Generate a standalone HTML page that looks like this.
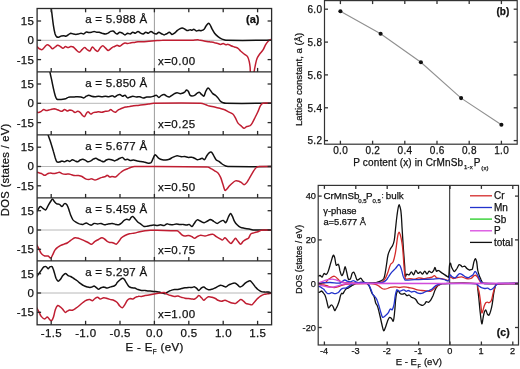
<!DOCTYPE html><html><head><meta charset="utf-8"><style>
html,body{margin:0;padding:0;background:#fff;}svg{display:block;will-change:transform;filter:blur(0.3px);}
text{font-family:"Liberation Sans", sans-serif;fill:#111;stroke:#111;stroke-width:0.25px;}
</style></head><body>
<svg width="520" height="369" viewBox="0 0 520 369">
<rect width="520" height="369" fill="#fff"/>
<defs>
<clipPath id="pa0"><rect x="37.1" y="8.5" width="234.50000000000003" height="63.400000000000006"/></clipPath>
<clipPath id="pa1"><rect x="37.1" y="71.9" width="234.50000000000003" height="63.0"/></clipPath>
<clipPath id="pa2"><rect x="37.1" y="134.9" width="234.50000000000003" height="63.0"/></clipPath>
<clipPath id="pa3"><rect x="37.1" y="197.9" width="234.50000000000003" height="62.99999999999997"/></clipPath>
<clipPath id="pa4"><rect x="37.1" y="260.9" width="234.50000000000003" height="63.900000000000034"/></clipPath>
<clipPath id="pc"><rect x="318.2" y="185.4" width="200.3" height="159.6"/></clipPath>
</defs>
<line x1="37.1" y1="40.3" x2="271.6" y2="40.3" stroke="#b0b0b0" stroke-width="0.9"/>
<line x1="37.1" y1="103.3" x2="271.6" y2="103.3" stroke="#b0b0b0" stroke-width="0.9"/>
<line x1="37.1" y1="166.5" x2="271.6" y2="166.5" stroke="#b0b0b0" stroke-width="0.9"/>
<line x1="37.1" y1="230.0" x2="271.6" y2="230.0" stroke="#b0b0b0" stroke-width="0.9"/>
<line x1="37.1" y1="293.0" x2="271.6" y2="293.0" stroke="#b0b0b0" stroke-width="0.9"/>
<line x1="154.4" y1="8.5" x2="154.4" y2="324.8" stroke="#909090" stroke-width="0.9"/>
<g clip-path="url(#pa0)">
<path d="M50.6,4.0C50.8,5.5 51.1,7.0 51.3,8.5C52.0,14.1 52.6,19.8 53.4,25.4C53.8,28.3 54.3,31.2 55.1,34.0C55.4,34.9 55.8,36.0 56.5,36.6C57.0,37.1 57.9,37.3 58.6,37.2C59.5,37.1 60.3,36.3 61.2,36.1C62.0,35.9 62.9,35.8 63.8,35.8C64.7,35.8 65.6,36.3 66.4,36.1C67.0,36.0 67.5,35.3 68.1,34.9C69.0,34.3 69.8,33.4 70.7,33.2C71.5,33.1 72.4,33.8 73.3,34.0C74.2,34.2 75.0,34.4 75.9,34.4C76.8,34.4 77.6,34.2 78.5,34.0C79.4,33.8 80.2,33.2 81.1,33.2C82.0,33.2 82.9,34.2 83.7,34.0C84.6,33.8 85.3,32.3 86.3,32.0C87.1,31.8 88.0,32.5 88.9,32.6C89.8,32.6 90.7,32.5 91.5,32.3C92.4,32.1 93.2,31.4 94.1,31.4C95.0,31.4 95.8,32.1 96.7,32.3C97.5,32.4 98.5,32.2 99.3,32.3C100.2,32.5 101.0,33.0 101.9,33.2C103.1,33.5 104.2,34.0 105.4,34.0C106.3,34.0 107.2,33.6 108.0,33.2C108.9,32.7 109.7,31.8 110.6,31.4C111.4,31.1 112.5,30.7 113.2,31.0C114.3,31.4 115.0,32.8 116.0,33.5C116.3,33.8 116.8,34.1 117.2,34.0C118.1,33.7 118.9,32.4 119.8,32.3C120.6,32.2 121.6,32.8 122.4,33.2C123.3,33.7 124.1,34.9 125.0,34.9C125.9,34.9 126.7,33.4 127.6,33.2C128.4,33.1 129.4,34.1 130.2,34.0C131.1,33.8 131.9,32.4 132.8,32.3C133.6,32.2 134.6,33.3 135.4,33.2C136.3,33.0 137.1,31.4 138.0,31.4C138.9,31.4 139.7,32.7 140.6,33.2C141.4,33.6 142.4,34.1 143.2,34.0C144.1,33.8 144.9,32.4 145.8,32.3C146.6,32.2 147.6,33.3 148.4,33.2C149.3,33.0 150.1,31.4 151.0,31.4C151.9,31.4 152.7,32.7 153.6,33.2C154.4,33.6 155.5,34.1 156.3,34.0C157.2,33.8 158.0,32.4 158.9,32.3C159.7,32.3 160.6,33.3 161.5,33.7C162.4,34.1 163.2,34.9 164.1,34.9C165.0,34.9 165.8,34.1 166.7,33.7C167.6,33.3 168.5,32.2 169.3,32.3C170.2,32.4 171.0,34.2 171.9,34.4C172.7,34.5 173.7,33.8 174.5,33.2C175.5,32.5 176.2,31.4 177.1,30.6C177.9,29.9 178.8,29.3 179.7,28.8C180.5,28.4 181.5,27.9 182.3,28.0C183.2,28.1 184.0,28.8 184.9,29.2C185.8,29.6 186.6,30.5 187.5,30.6C188.3,30.7 189.2,29.8 190.1,29.7C190.7,29.6 191.4,30.3 192.0,30.2C192.6,30.1 193.1,29.1 193.7,29.2C194.6,29.3 195.4,30.7 196.3,30.9C197.1,31.1 198.0,30.3 198.9,30.2C199.8,30.2 200.7,30.8 201.5,30.6C202.4,30.4 203.4,29.9 204.1,29.2C204.9,28.4 205.2,27.1 205.9,26.2C206.7,25.2 207.6,23.5 208.5,23.3C209.0,23.1 209.8,24.3 210.2,25.0C210.9,26.2 211.3,27.6 212.0,28.8C212.8,30.3 213.6,31.9 214.6,33.2C215.6,34.5 216.8,35.6 218.0,36.6C219.1,37.5 220.3,38.3 221.5,38.9C222.3,39.3 223.2,39.6 224.1,39.8C225.0,40.0 226.0,40.3 227.0,40.3C242.0,40.5 257.0,40.3 272.0,40.3" fill="none" stroke="#111" stroke-width="1.5" stroke-linejoin="round"/>
<path d="M36.0,46.5C36.4,46.7 36.8,46.8 37.2,47.0C38.0,47.5 38.7,48.4 39.5,48.8C40.3,49.2 41.4,49.9 42.1,49.6C43.1,49.3 43.8,47.8 44.7,47.0C45.5,46.2 46.4,44.9 47.3,44.8C48.1,44.7 49.1,45.6 49.9,46.2C50.9,46.9 51.6,48.7 52.5,48.8C53.3,48.9 54.2,47.6 55.1,47.0C56.0,46.4 56.8,45.4 57.7,45.3C58.5,45.2 59.5,46.0 60.3,46.5C61.2,47.0 62.0,48.3 62.9,48.3C63.8,48.3 64.6,46.6 65.5,46.5C66.3,46.4 67.2,47.6 68.1,47.6C69.0,47.6 69.8,46.6 70.7,46.5C71.5,46.4 72.6,46.6 73.3,47.0C74.3,47.6 75.0,48.8 75.9,49.6C77.0,50.6 78.3,52.3 79.4,52.3C80.3,52.3 81.1,50.4 82.0,49.6C82.8,48.9 83.7,47.6 84.6,47.6C85.5,47.6 86.3,49.0 87.2,49.6C88.0,50.1 89.1,51.3 89.8,51.0C90.9,50.5 91.4,47.3 92.4,47.0C93.2,46.8 94.1,48.8 95.0,49.6C95.8,50.3 96.9,51.6 97.6,51.4C98.6,51.1 99.2,49.0 100.2,47.9C101.0,47.1 101.9,45.8 102.8,45.8C103.7,45.8 104.6,47.2 105.4,47.9C106.3,48.7 107.1,50.3 108.0,50.5C108.8,50.6 109.8,49.4 110.6,48.8C111.5,48.2 112.3,47.3 113.2,46.8C113.6,46.6 114.2,46.7 114.6,46.5C115.5,46.2 116.3,45.4 117.2,45.3C118.0,45.3 119.0,46.3 119.8,46.2C120.7,46.0 121.5,45.0 122.4,44.4C123.2,43.9 124.1,43.1 125.0,43.0C125.8,42.9 126.7,43.6 127.6,43.6C128.8,43.5 129.9,42.9 131.1,42.7C132.3,42.5 133.4,42.6 134.6,42.4C135.7,42.3 136.9,41.9 138.0,41.8C139.2,41.7 140.3,41.8 141.5,41.8C143.2,41.7 145.0,41.6 146.7,41.5C148.4,41.4 150.2,41.2 151.9,41.0C153.6,40.9 155.4,40.7 157.1,40.6C158.8,40.5 160.6,40.3 162.3,40.3C165.8,40.2 169.2,40.3 172.7,40.3C179.1,40.3 185.6,40.3 192.0,40.2C194.3,40.2 196.6,39.7 198.9,39.9C200.7,40.0 202.4,40.7 204.1,41.0C205.9,41.3 207.6,41.5 209.4,41.8C211.1,42.1 212.9,42.3 214.6,42.7C215.7,42.9 216.9,43.3 218.0,43.6C218.9,43.8 219.7,44.4 220.6,44.4C221.5,44.4 222.4,43.5 223.2,43.6C224.1,43.7 224.9,44.7 225.8,44.8C226.6,44.9 227.6,44.2 228.4,44.4C229.3,44.6 230.1,45.4 231.0,45.8C232.1,46.3 233.3,46.6 234.5,47.0C235.7,47.4 237.0,47.6 238.0,48.3C239.0,49.0 239.7,50.1 240.6,51.0C241.7,52.0 242.9,53.0 244.1,54.0C245.2,54.9 246.7,55.5 247.5,56.6C248.5,58.1 248.9,60.0 249.3,61.8C249.7,63.5 249.9,65.3 250.1,67.0C250.4,69.7 250.0,73.0 250.9,75.0C251.2,75.7 253.3,75.5 253.8,75.0C254.3,74.5 253.9,73.0 254.1,72.0C254.4,69.8 254.8,67.5 255.3,65.3C255.8,62.9 256.2,60.5 257.1,58.3C257.7,56.8 258.7,55.4 259.7,54.0C260.8,52.5 262.2,51.2 263.2,49.6C264.2,48.0 264.8,46.1 265.8,44.4C266.5,43.2 267.4,42.0 268.4,41.0C268.9,40.5 269.5,40.1 270.1,39.8C270.7,39.6 271.4,39.6 272.0,39.5" fill="none" stroke="#c01e32" stroke-width="1.5" stroke-linejoin="round"/>
</g>
<g clip-path="url(#pa1)">
<path d="M49.2,68.0C49.4,69.3 49.6,70.6 49.9,71.9C50.4,74.5 51.0,77.1 51.6,79.7C52.2,82.6 52.8,85.5 53.4,88.4C53.9,90.7 54.4,93.1 55.1,95.3C55.5,96.6 55.9,98.2 56.8,99.1C57.4,99.7 58.5,99.6 59.4,99.6C60.6,99.6 61.7,99.5 62.9,99.3C63.8,99.2 64.7,99.1 65.5,98.8C66.4,98.5 67.2,97.7 68.1,97.4C68.9,97.1 69.8,97.1 70.7,97.0C71.9,96.9 73.0,97.1 74.2,97.0C75.3,97.0 76.5,96.7 77.6,96.7C78.8,96.7 80.0,96.8 81.1,97.0C82.0,97.2 82.9,98.0 83.7,97.9C84.6,97.8 85.4,96.7 86.3,96.2C87.1,95.8 88.0,95.3 88.9,95.3C89.8,95.3 90.6,96.0 91.5,96.2C92.6,96.5 93.8,96.7 95.0,96.7C96.2,96.7 97.3,96.2 98.5,96.2C99.6,96.2 100.8,96.7 101.9,96.7C103.1,96.7 104.2,96.2 105.4,96.2C106.6,96.2 107.7,96.8 108.9,96.7C110.1,96.6 111.3,95.7 112.4,95.8C113.2,95.8 113.9,97.1 114.6,97.0C115.5,96.9 116.3,95.8 117.2,95.3C118.0,94.9 119.0,94.3 119.8,94.4C120.7,94.6 121.5,96.0 122.4,96.2C123.2,96.3 124.3,95.1 125.0,95.3C126.0,95.6 126.6,97.6 127.6,97.9C128.3,98.1 129.3,97.3 130.2,97.0C131.1,96.7 131.9,96.2 132.8,96.2C134.0,96.2 135.1,96.9 136.3,97.0C137.5,97.1 138.7,96.6 139.8,96.7C141.0,96.9 142.1,97.9 143.2,97.9C144.4,98.0 145.5,97.2 146.7,97.0C147.8,96.9 149.0,97.1 150.2,97.0C151.3,96.9 152.5,96.5 153.6,96.2C154.5,95.9 155.5,95.1 156.3,95.3C157.3,95.5 158.0,97.4 158.9,97.4C159.8,97.4 160.5,95.8 161.5,95.3C162.3,94.8 163.3,94.3 164.1,94.4C165.0,94.6 165.8,95.7 166.7,96.2C167.5,96.6 168.5,97.1 169.3,97.0C170.2,96.8 171.0,95.9 171.9,95.3C172.8,94.7 173.6,94.1 174.5,93.6C175.3,93.2 176.2,92.7 177.1,92.7C178.0,92.7 178.8,93.5 179.7,93.6C180.5,93.7 181.5,93.5 182.3,93.2C183.2,92.9 184.1,92.4 184.9,91.8C185.5,91.3 186.0,90.2 186.6,90.1C187.2,90.1 188.0,90.9 188.4,91.5C189.2,92.6 189.3,94.3 190.1,95.3C190.5,95.8 191.4,96.0 192.0,96.0C192.9,96.0 193.8,95.7 194.6,95.3C195.6,94.8 196.3,93.8 197.2,93.2C197.8,92.8 198.7,92.0 199.3,92.2C200.1,92.4 200.7,93.7 201.5,94.4C202.2,95.0 203.3,96.6 203.8,96.2C204.8,95.5 205.0,92.6 205.9,91.0C206.5,89.9 207.3,88.2 208.1,88.0C208.7,87.9 209.6,89.3 210.2,90.1C211.1,91.2 211.8,92.6 212.8,93.6C213.5,94.3 214.6,94.6 215.4,95.3C216.3,96.1 217.2,97.0 218.0,97.9C218.9,99.0 219.6,100.4 220.6,101.4C221.3,102.1 222.3,102.5 223.2,102.8C224.1,103.1 225.1,103.3 226.0,103.3C241.3,103.5 256.7,103.3 272.0,103.3" fill="none" stroke="#111" stroke-width="1.5" stroke-linejoin="round"/>
<path d="M36.0,111.5C36.9,111.9 37.7,112.6 38.6,112.6C39.5,112.6 40.4,111.8 41.2,111.3C42.1,110.8 42.9,109.6 43.8,109.5C44.6,109.4 45.5,110.5 46.4,110.6C47.2,110.7 48.1,110.2 49.0,110.0C49.9,109.8 50.7,109.4 51.6,109.2C52.5,109.0 53.3,108.8 54.2,108.8C55.1,108.9 56.0,109.2 56.8,109.5C57.7,109.8 58.5,110.3 59.4,110.6C60.2,110.9 61.2,111.5 62.0,111.3C62.9,111.1 63.7,109.6 64.6,109.5C65.4,109.4 66.3,110.8 67.2,110.9C68.0,111.0 68.9,110.1 69.8,110.0C70.7,110.0 71.6,110.2 72.4,110.6C73.4,111.1 74.1,112.5 75.0,112.6C75.8,112.7 76.7,111.3 77.6,111.3C78.5,111.3 79.6,112.0 80.3,112.6C81.3,113.5 81.9,114.9 82.9,115.8C83.3,116.2 84.2,116.8 84.6,116.5C85.3,116.0 85.6,114.4 86.3,113.5C86.8,112.8 87.5,111.7 88.1,111.8C88.9,111.9 89.8,113.9 90.7,114.0C91.5,114.1 92.4,112.9 93.3,112.6C94.1,112.3 95.0,112.4 95.9,112.3C96.8,112.2 97.6,111.8 98.5,111.8C99.6,111.8 100.8,112.4 101.9,112.3C103.1,112.2 104.2,111.5 105.4,111.3C106.5,111.1 107.8,111.3 108.9,110.9C109.6,110.7 110.0,109.4 110.6,109.5C111.4,109.6 112.3,110.8 113.2,111.3C113.9,111.7 114.8,112.5 115.5,112.3C116.4,112.0 117.2,110.6 118.1,110.0C118.9,109.5 119.8,109.2 120.7,108.8C121.6,108.4 122.4,108.1 123.3,107.8C124.2,107.5 125.0,107.3 125.9,107.1C127.1,106.9 128.2,106.8 129.4,106.6C130.8,106.3 132.3,105.9 133.7,105.7C135.1,105.5 136.6,105.5 138.0,105.4C139.7,105.2 141.5,105.0 143.2,104.8C144.9,104.6 146.7,104.3 148.4,104.0C150.1,103.8 151.9,103.3 153.6,103.3C169.3,103.1 185.1,102.9 200.7,103.3C202.5,103.4 204.2,104.2 205.9,104.8C207.1,105.2 208.2,105.8 209.4,106.1C211.1,106.5 212.9,106.7 214.6,107.1C216.3,107.5 218.1,107.9 219.8,108.3C221.2,108.7 222.7,108.9 224.1,109.5C225.6,110.1 227.0,111.1 228.4,111.8C229.9,112.6 231.6,113.0 232.8,114.0C233.9,115.0 234.6,116.5 235.4,117.9C236.4,119.6 236.9,121.6 238.0,123.1C238.9,124.3 240.3,125.2 241.5,126.2C242.3,126.9 243.2,128.2 244.1,128.3C244.9,128.3 245.7,126.9 246.7,126.5C247.7,126.0 249.2,126.3 250.1,125.7C251.2,124.9 252.0,123.4 252.7,122.2C253.7,120.5 254.4,118.7 255.3,117.0C256.2,115.3 257.1,113.6 257.9,111.8C258.8,109.8 259.4,107.5 260.5,105.7C261.1,104.7 262.0,103.5 263.1,103.3C265.8,102.7 269.0,103.3 272.0,103.3" fill="none" stroke="#c01e32" stroke-width="1.5" stroke-linejoin="round"/>
</g>
<g clip-path="url(#pa2)">
<path d="M47.5,132.0C47.7,133.0 47.8,134.0 48.1,134.9C48.9,137.5 50.0,140.1 50.8,142.7C51.7,145.6 52.6,148.5 53.4,151.4C54.0,153.4 54.5,155.4 55.1,157.4C55.6,158.9 55.9,160.8 56.8,161.8C57.3,162.4 58.6,162.2 59.4,162.1C60.3,161.9 61.1,161.0 62.0,160.9C62.8,160.9 63.8,161.9 64.6,161.8C65.5,161.7 66.3,160.5 67.2,160.4C68.0,160.3 69.0,161.5 69.8,161.4C70.7,161.3 71.5,159.8 72.4,159.7C73.2,159.6 74.1,160.5 75.0,160.9C75.8,161.2 76.8,161.9 77.6,161.8C78.6,161.6 79.3,160.5 80.3,160.0C81.1,159.6 82.1,159.1 82.9,159.2C83.8,159.3 84.6,160.0 85.5,160.4C86.4,160.8 87.2,161.7 88.1,161.8C88.9,161.9 89.9,161.3 90.7,160.9C91.6,160.4 92.4,159.7 93.3,159.2C94.1,158.8 95.1,158.2 95.9,158.3C96.8,158.4 97.6,159.3 98.5,159.7C99.4,160.1 100.2,160.5 101.1,160.9C101.9,161.2 102.9,161.9 103.7,161.8C104.6,161.6 105.4,160.5 106.3,160.0C107.1,159.6 108.0,159.2 108.9,159.2C110.1,159.2 111.3,159.7 112.4,160.0C113.2,160.2 113.9,160.9 114.6,160.9C115.5,160.8 116.3,160.1 117.2,159.7C118.1,159.3 118.9,158.7 119.8,158.3C120.6,157.9 121.6,157.2 122.4,157.4C123.4,157.7 124.0,159.4 125.0,159.7C125.8,160.0 126.8,159.1 127.6,159.2C128.5,159.3 129.3,160.3 130.2,160.4C131.3,160.5 132.5,159.9 133.7,160.0C134.9,160.1 136.0,160.7 137.2,160.9C138.3,161.1 139.5,161.2 140.6,161.4C141.8,161.6 142.9,161.8 144.1,162.1C145.5,162.4 147.0,163.1 148.4,163.2C149.3,163.3 150.4,163.1 151.0,162.6C151.9,161.8 152.2,160.3 152.8,159.2C153.5,157.7 154.1,155.5 155.0,154.8C155.4,154.5 156.2,155.7 156.8,156.2C157.5,156.9 158.1,157.8 158.9,158.3C159.9,158.9 161.1,159.4 162.3,159.7C163.4,160.0 164.6,160.1 165.8,160.0C167.0,159.9 168.2,159.6 169.3,159.2C170.5,158.8 171.5,157.9 172.7,157.4C174.1,156.8 175.6,155.9 177.1,155.7C178.2,155.6 179.3,156.5 180.5,156.6C181.9,156.8 183.4,156.5 184.9,156.6C186.1,156.7 187.2,157.3 188.4,157.4C189.6,157.5 190.8,157.0 192.0,157.2C192.9,157.3 193.8,157.9 194.6,158.3C195.5,158.7 196.3,159.5 197.2,159.7C198.0,159.8 199.0,159.4 199.8,159.2C200.6,159.0 201.4,158.2 202.1,158.3C202.9,158.4 203.9,160.0 204.5,159.7C205.5,159.2 205.9,157.0 206.8,155.7C207.6,154.6 208.4,153.5 209.4,152.7C209.9,152.3 210.9,151.9 211.4,152.2C212.4,152.9 213.0,154.5 213.7,155.7C214.6,157.1 215.2,158.8 216.3,160.0C216.9,160.7 218.1,160.9 218.9,161.4C219.8,162.0 220.6,162.8 221.5,163.5C222.3,164.1 223.2,164.7 224.1,165.2C224.9,165.6 225.8,166.1 226.7,166.3C227.5,166.5 228.4,166.6 229.3,166.6C243.5,166.7 257.8,166.6 272.0,166.6" fill="none" stroke="#111" stroke-width="1.5" stroke-linejoin="round"/>
<path d="M36.0,172.0C36.4,172.1 36.8,172.1 37.2,172.2C38.0,172.4 38.7,172.7 39.5,173.0C40.4,173.3 41.3,173.5 42.1,173.9C43.0,174.3 43.8,175.3 44.7,175.3C45.6,175.3 46.4,174.3 47.3,173.9C48.1,173.5 49.0,173.0 49.9,173.0C51.0,172.9 52.2,173.6 53.4,173.6C54.5,173.6 55.7,173.3 56.8,173.0C57.7,172.8 58.6,172.1 59.4,172.2C60.3,172.3 61.1,173.3 62.0,173.6C63.1,174.0 64.3,174.2 65.5,174.3C66.7,174.3 67.9,173.8 69.0,173.9C69.9,174.0 70.7,174.6 71.6,174.8C72.7,175.1 73.9,175.5 75.0,175.6C76.2,175.7 77.4,175.5 78.5,175.6C79.7,175.8 80.9,176.0 82.0,176.5C83.3,177.1 84.2,178.3 85.5,178.8C86.5,179.3 87.8,179.5 88.9,179.5C89.8,179.5 90.6,178.7 91.5,178.8C92.7,178.9 93.8,180.0 95.0,180.0C96.2,180.0 97.3,179.2 98.5,178.8C99.6,178.4 100.7,177.8 101.9,177.4C103.0,177.0 104.3,176.9 105.4,176.5C106.1,176.2 106.6,175.2 107.2,175.3C108.1,175.4 108.9,176.8 109.8,177.0C110.5,177.2 111.3,176.5 112.0,176.5C113.2,176.5 114.5,177.3 115.5,177.0C116.5,176.7 117.2,175.5 118.1,174.8C119.0,174.0 119.8,173.2 120.7,172.5C121.8,171.6 122.9,170.8 124.1,170.1C125.2,169.5 126.4,169.2 127.6,168.7C128.8,168.2 129.9,167.7 131.1,167.3C132.2,166.9 133.4,166.5 134.6,166.5C158.9,166.4 183.4,166.3 207.6,167.0C208.9,167.0 210.0,168.1 211.1,168.7C212.3,169.3 213.4,170.1 214.6,170.8C215.7,171.5 217.1,172.0 218.0,173.0C219.1,174.2 219.9,175.8 220.6,177.4C221.6,179.6 222.1,182.0 222.9,184.3C223.6,186.3 224.0,189.2 225.0,190.4C225.3,190.8 226.2,189.7 226.7,189.2C227.6,188.3 228.4,187.1 229.3,186.1C230.1,185.2 231.0,184.3 231.9,183.5C233.0,182.6 234.1,181.3 235.4,180.9C236.4,180.6 237.8,180.9 238.9,181.2C239.8,181.5 240.7,182.1 241.5,182.6C242.4,183.2 243.2,184.7 244.1,184.7C245.0,184.7 246.0,183.5 246.7,182.6C247.7,181.3 248.4,179.7 249.3,178.3C250.2,176.8 251.0,175.4 251.9,173.9C252.8,172.5 253.5,170.9 254.5,169.6C255.2,168.6 256.1,167.7 257.1,167.0C257.6,166.7 258.2,166.5 258.8,166.5C263.2,166.4 267.6,166.5 272.0,166.5" fill="none" stroke="#c01e32" stroke-width="1.5" stroke-linejoin="round"/>
</g>
<g clip-path="url(#pa3)">
<path d="M36.0,213.0C36.6,212.0 37.1,211.0 37.7,210.0C38.5,208.8 39.3,206.8 40.3,206.5C41.0,206.3 42.0,207.7 42.9,208.3C43.8,208.9 44.8,210.3 45.5,210.0C46.6,209.5 47.2,207.1 48.1,205.7C49.0,204.2 49.8,202.7 50.8,201.3C51.3,200.5 51.9,199.1 52.5,199.1C53.1,199.1 53.6,200.6 54.2,201.3C55.0,202.2 55.8,203.3 56.8,203.9C57.5,204.3 58.6,203.9 59.4,204.3C60.4,204.8 61.2,206.6 62.0,206.5C62.9,206.4 63.6,203.9 64.6,203.6C65.3,203.4 66.4,204.1 66.9,204.8C67.9,206.3 68.4,208.2 69.0,210.0C69.6,211.7 70.0,213.5 70.7,215.2C71.3,216.7 71.9,218.3 72.8,219.6C73.6,220.7 74.8,221.5 75.9,222.2C77.0,222.9 78.2,223.5 79.4,223.9C80.5,224.2 81.8,224.5 82.9,224.4C84.1,224.2 85.2,223.0 86.3,223.0C87.2,223.0 88.0,224.0 88.9,224.4C89.7,224.7 90.7,225.3 91.5,225.1C92.4,224.9 93.1,223.6 94.1,223.4C95.2,223.2 96.4,223.9 97.6,223.9C98.8,223.9 100.0,223.3 101.1,223.4C102.3,223.6 103.3,224.7 104.5,224.8C105.6,224.9 106.8,224.1 108.0,223.9C109.5,223.6 111.0,223.3 112.4,223.4C113.5,223.5 114.4,224.2 115.5,224.4C116.6,224.6 117.9,225.0 118.9,224.8C119.9,224.6 120.7,223.7 121.5,223.0C122.4,222.2 123.1,221.1 124.1,220.4C124.9,219.8 125.9,219.3 126.8,219.2C127.6,219.1 128.7,220.2 129.4,219.9C130.1,219.6 130.4,218.2 131.1,217.5C131.6,217.0 132.3,216.2 132.8,216.4C133.7,216.8 134.5,218.3 135.4,219.2C136.3,220.2 137.0,221.3 138.0,222.2C138.8,222.9 139.8,223.3 140.6,223.9C141.8,224.7 142.8,226.0 144.1,226.5C144.9,226.8 145.8,226.3 146.7,226.2C147.9,226.0 149.0,225.8 150.2,225.6C151.3,225.4 152.5,225.1 153.6,225.1C154.8,225.1 155.9,225.6 157.1,225.6C158.3,225.5 159.4,224.8 160.6,224.8C161.8,224.8 163.0,225.8 164.1,225.6C165.0,225.5 165.8,224.1 166.7,223.9C167.5,223.7 168.4,224.3 169.3,224.4C170.4,224.6 171.6,224.9 172.7,224.8C173.9,224.7 175.0,224.0 176.2,223.9C177.4,223.8 178.5,224.3 179.7,224.4C180.9,224.5 182.0,224.3 183.2,224.4C184.3,224.5 185.5,225.1 186.6,225.1C187.5,225.1 188.4,224.2 189.2,224.4C190.2,224.7 191.2,226.7 192.0,226.5C193.0,226.2 193.7,224.1 194.6,223.0C195.4,221.9 196.1,220.2 197.2,219.9C198.2,219.6 199.5,220.8 200.7,221.3C201.8,221.8 203.0,222.7 204.1,222.7C205.3,222.6 206.4,221.6 207.6,221.0C208.5,220.6 209.3,219.6 210.2,219.6C211.4,219.7 212.6,220.7 213.7,221.3C214.9,221.9 216.0,223.4 217.2,223.4C218.3,223.4 219.4,221.9 220.6,221.3C221.4,220.9 222.4,220.2 223.2,220.4C224.2,220.7 225.2,223.1 225.8,222.7C226.9,222.0 227.5,218.9 228.4,217.0C229.0,215.8 229.8,213.7 230.5,213.5C231.1,213.4 231.8,215.2 232.3,216.1C233.2,217.8 233.6,219.7 234.5,221.3C235.2,222.6 236.1,223.8 237.1,224.8C238.1,225.8 239.3,226.8 240.6,227.4C241.7,227.9 242.9,228.0 244.1,228.2C245.8,228.5 247.6,228.8 249.3,229.1C251.0,229.4 252.7,229.9 254.5,230.0C260.3,230.2 266.2,230.0 272.0,230.0" fill="none" stroke="#111" stroke-width="1.5" stroke-linejoin="round"/>
<path d="M36.0,243.5C36.9,245.1 37.8,246.6 38.6,248.2C39.5,249.9 40.0,251.9 41.2,253.4C42.1,254.5 43.4,255.5 44.7,256.0C45.7,256.4 47.1,255.7 48.1,256.0C49.1,256.4 50.1,258.2 50.8,258.1C51.5,257.9 52.0,256.1 52.5,255.1C53.4,253.4 54.0,251.5 55.1,249.9C55.8,248.9 56.8,248.1 57.7,247.3C58.5,246.6 59.4,246.1 60.3,245.6C61.4,245.0 62.6,244.6 63.8,244.2C64.9,243.8 66.2,243.6 67.2,243.0C68.5,242.3 69.5,241.2 70.7,240.4C72.1,239.5 73.5,238.1 75.0,237.8C76.4,237.5 78.0,238.2 79.4,238.6C80.9,239.0 82.3,239.8 83.7,240.4C85.2,241.1 86.6,241.8 88.1,242.5C89.2,243.1 90.5,244.4 91.5,244.2C92.8,244.0 93.7,242.1 95.0,241.3C96.1,240.6 97.3,240.1 98.5,239.5C99.6,238.9 100.8,237.9 101.9,237.8C102.8,237.7 103.7,238.5 104.5,239.0C105.5,239.6 106.2,240.7 107.2,241.3C108.0,241.8 108.9,242.3 109.8,242.5C110.5,242.7 111.3,242.4 112.0,242.5C112.9,242.7 113.7,243.2 114.6,243.5C115.2,243.7 115.8,244.4 116.3,244.2C117.3,243.7 118.1,242.3 118.9,241.3C119.8,240.2 120.5,238.8 121.5,237.8C122.5,236.9 123.8,236.1 125.0,235.5C126.4,234.8 127.9,234.2 129.4,233.8C131.1,233.4 132.9,233.4 134.6,233.1C136.4,232.7 138.0,232.1 139.8,231.7C141.5,231.3 143.3,231.0 145.0,230.8C146.7,230.6 148.5,230.4 150.2,230.3C152.5,230.2 154.8,230.3 157.1,230.3C159.4,230.3 161.8,230.4 164.1,230.5C166.4,230.6 168.7,230.7 171.0,230.8C173.0,230.8 175.2,230.4 177.1,230.8C178.1,231.0 178.9,231.9 179.7,232.6C180.6,233.4 181.3,234.5 182.3,235.2C183.0,235.7 184.0,236.0 184.9,236.0C186.0,236.1 187.3,235.4 188.4,235.5C189.6,235.6 190.9,236.2 192.0,236.7C192.9,237.1 193.7,238.3 194.6,238.3C195.5,238.3 196.3,237.1 197.2,236.6C198.3,236.0 199.5,235.3 200.7,235.2C202.1,235.1 203.6,236.1 205.0,236.0C206.5,235.9 207.9,235.1 209.4,234.8C210.5,234.6 211.8,234.0 212.8,234.3C214.1,234.6 215.1,235.9 216.3,236.6C217.4,237.3 218.6,237.9 219.8,238.6C220.7,239.1 221.6,240.1 222.4,240.0C223.3,239.9 224.2,237.6 225.0,237.8C226.2,238.1 227.2,240.2 228.4,241.3C229.2,242.1 230.2,243.6 231.0,243.5C231.9,243.3 232.7,241.4 233.6,240.4C234.2,239.7 234.8,238.2 235.4,238.3C236.3,238.5 237.1,240.3 238.0,241.3C238.9,242.3 239.7,244.2 240.6,244.2C241.5,244.2 242.2,242.2 243.2,241.3C244.0,240.6 244.9,240.0 245.8,239.5C246.6,239.0 247.8,239.0 248.4,238.3C249.5,237.1 249.8,234.9 251.0,233.8C251.8,233.0 253.3,233.0 254.5,232.6C255.6,232.3 256.8,232.1 257.9,231.7C259.1,231.3 260.2,230.4 261.4,230.3C264.9,229.9 268.5,230.2 272.0,230.2" fill="none" stroke="#c01e32" stroke-width="1.5" stroke-linejoin="round"/>
</g>
<g clip-path="url(#pa4)">
<path d="M36.0,278.0C36.9,276.6 37.7,275.2 38.6,273.9C39.4,272.7 40.3,271.6 41.2,270.4C42.1,269.2 42.7,267.7 43.8,266.9C44.4,266.5 45.5,266.3 46.1,266.6C46.9,266.9 47.4,268.6 48.1,268.7C48.7,268.7 49.2,267.3 49.9,266.9C50.5,266.6 51.6,266.2 52.0,266.6C52.8,267.4 53.2,269.1 53.7,270.4C54.6,273.0 55.0,275.7 56.0,278.2C56.5,279.3 57.4,281.0 58.2,281.2C58.8,281.4 59.7,280.1 60.3,279.4C61.3,278.2 61.9,276.7 62.9,275.6C63.6,274.8 64.6,273.5 65.5,273.5C66.4,273.5 67.1,275.1 68.1,275.6C68.9,276.1 69.9,276.1 70.7,276.5C71.6,277.0 72.4,277.6 73.3,278.2C74.5,279.0 75.7,279.7 76.8,280.5C78.0,281.4 79.1,282.5 80.3,283.4C81.4,284.2 82.5,285.1 83.7,285.7C84.8,286.3 86.0,286.6 87.2,286.9C88.0,287.1 88.9,287.4 89.8,287.4C90.7,287.4 91.6,287.2 92.4,286.9C93.0,286.7 93.6,285.9 94.1,286.0C95.0,286.2 95.8,287.2 96.7,287.8C97.3,288.2 97.9,289.2 98.5,289.2C99.3,289.2 100.2,288.2 101.1,287.8C101.9,287.4 102.8,286.9 103.7,286.9C104.9,287.0 106.0,288.1 107.2,288.1C108.3,288.1 109.5,287.2 110.6,286.9C111.8,286.5 113.0,286.5 114.1,286.0C114.8,285.7 115.5,285.1 116.0,284.5C116.5,284.0 116.7,283.2 117.2,282.6C118.0,281.7 118.9,280.8 119.8,280.0C120.6,279.3 121.5,278.4 122.4,278.2C122.9,278.1 123.7,278.6 124.1,279.1C125.2,280.4 125.8,282.0 126.8,283.4C127.6,284.6 128.3,286.0 129.4,286.9C130.1,287.5 131.1,287.6 132.0,287.8C132.8,288.0 133.8,287.9 134.6,288.1C135.8,288.4 136.8,289.1 138.0,289.5C139.1,289.9 140.3,290.2 141.5,290.4C142.6,290.5 143.8,290.3 145.0,290.4C146.1,290.5 147.3,290.8 148.4,290.9C149.6,291.0 150.7,291.1 151.9,291.2C153.1,291.3 154.2,291.5 155.4,291.6C156.6,291.8 157.7,291.9 158.9,292.1C160.0,292.3 161.2,292.7 162.3,293.0C163.2,293.2 164.1,293.9 164.9,293.8C165.8,293.6 166.6,292.6 167.5,292.1C168.6,291.5 169.8,290.8 171.0,290.4C172.1,290.0 173.3,289.7 174.5,289.5C175.6,289.4 176.8,289.6 177.9,289.5C179.1,289.3 180.2,288.9 181.4,288.6C182.6,288.3 183.7,288.0 184.9,287.8C186.1,287.6 187.2,287.5 188.4,287.4C189.6,287.3 190.8,287.5 192.0,287.4C192.9,287.3 193.8,286.7 194.6,286.9C195.4,287.1 196.2,288.0 196.9,288.6C197.6,289.2 198.3,290.5 198.9,290.4C199.8,290.2 200.5,288.5 201.5,287.8C202.2,287.3 203.1,286.8 203.8,286.9C204.6,287.0 205.1,288.1 205.9,288.6C206.7,289.1 207.6,289.7 208.5,289.8C209.6,289.9 210.9,289.5 212.0,289.2C213.2,288.9 214.3,288.3 215.4,287.8C216.3,287.4 217.1,286.8 218.0,286.4C218.9,286.0 219.7,285.3 220.6,285.2C221.4,285.1 222.3,285.7 223.2,286.0C224.1,286.3 225.0,287.0 225.8,286.9C226.7,286.8 227.5,285.7 228.4,285.2C229.2,284.7 230.1,284.3 231.0,284.0C232.1,283.6 233.4,282.8 234.5,282.9C235.4,282.9 236.3,283.7 237.1,284.3C238.1,285.0 238.7,286.6 239.7,286.9C240.4,287.1 241.6,286.5 242.3,286.0C243.3,285.3 244.0,284.2 244.9,283.4C245.7,282.7 246.6,282.2 247.5,281.7C248.3,281.3 249.4,280.6 250.1,280.8C251.1,281.1 251.9,282.5 252.7,283.4C253.6,284.5 254.4,285.8 255.3,286.9C256.1,287.8 256.9,288.8 257.9,289.5C259.0,290.3 260.1,291.1 261.4,291.6C262.5,292.0 263.7,292.0 264.9,292.1C266.1,292.2 267.3,292.0 268.4,292.1C269.6,292.3 270.8,292.7 272.0,293.0" fill="none" stroke="#111" stroke-width="1.5" stroke-linejoin="round"/>
<path d="M36.0,306.5C36.9,308.1 37.8,309.6 38.6,311.2C39.5,312.9 40.0,314.9 41.2,316.4C42.1,317.5 43.5,318.9 44.7,319.0C45.6,319.1 46.5,316.8 47.3,316.9C48.2,317.1 48.9,319.0 49.9,319.9C50.4,320.3 51.2,321.0 51.6,320.7C52.4,320.1 53.0,318.5 53.4,317.3C54.3,314.8 54.5,312.0 55.4,309.5C55.9,308.1 56.7,306.0 57.7,305.5C58.3,305.2 59.5,306.3 60.3,306.9C61.3,307.6 62.1,308.6 62.9,309.5C63.7,310.4 64.3,312.1 65.2,312.4C65.8,312.6 66.5,311.6 67.2,311.2C68.0,310.8 68.9,310.2 69.8,310.0C70.6,309.9 71.6,310.5 72.4,310.3C73.6,309.9 74.8,309.0 75.9,308.2C77.1,307.4 78.3,306.4 79.4,305.5C80.6,304.5 81.7,303.4 82.9,302.5C84.0,301.7 85.1,300.8 86.3,300.3C87.4,299.8 88.7,299.5 89.8,299.6C90.7,299.7 91.6,301.0 92.4,300.8C93.3,300.6 94.1,299.1 95.0,298.5C95.8,298.0 96.8,297.2 97.6,297.3C98.5,297.4 99.3,298.9 100.2,299.0C101.3,299.1 102.5,297.9 103.7,297.8C104.8,297.7 106.1,298.2 107.2,298.5C108.4,298.8 109.5,299.3 110.6,299.6C111.8,299.9 113.0,300.0 114.1,300.5C115.2,301.0 116.3,301.7 117.2,302.5C118.2,303.5 118.8,305.0 119.8,306.0C120.5,306.7 121.7,307.9 122.4,307.7C123.4,307.4 124.2,305.5 125.0,304.3C125.9,302.9 126.5,301.1 127.6,299.9C128.2,299.2 129.3,298.7 130.2,298.5C131.0,298.4 132.0,299.2 132.8,299.0C133.7,298.8 134.5,297.8 135.4,297.3C136.2,296.9 137.1,296.5 138.0,296.4C139.1,296.2 140.3,296.5 141.5,296.4C142.7,296.3 143.8,295.8 145.0,295.6C146.7,295.3 148.5,295.0 150.2,294.7C151.9,294.4 153.7,294.1 155.4,293.8C157.1,293.5 158.9,293.2 160.6,293.0C161.8,292.8 163.0,292.4 164.1,292.6C165.3,292.8 166.3,293.9 167.5,294.4C168.6,294.9 169.8,295.3 171.0,295.6C172.1,295.9 173.3,296.3 174.5,296.4C175.6,296.5 176.8,296.0 177.9,296.1C179.1,296.3 180.2,296.9 181.4,297.3C182.6,297.6 183.7,298.0 184.9,298.2C186.1,298.4 187.2,298.4 188.4,298.5C189.6,298.6 190.8,298.9 192.0,299.0C192.9,299.1 193.8,299.3 194.6,299.0C195.5,298.7 196.2,297.9 196.9,297.3C197.6,296.8 198.2,295.5 198.9,295.6C199.8,295.7 200.7,297.0 201.5,297.8C202.3,298.6 203.0,300.2 203.8,300.3C204.5,300.4 205.2,299.0 205.9,298.5C206.7,297.9 207.5,297.0 208.5,296.8C209.6,296.6 210.9,297.0 212.0,297.3C213.2,297.6 214.3,298.0 215.4,298.5C216.3,299.0 217.1,299.9 218.0,300.3C219.1,300.8 220.3,301.3 221.5,301.3C222.7,301.3 223.8,300.2 225.0,300.3C226.2,300.4 227.3,301.2 228.4,301.6C229.6,302.1 230.8,302.7 232.0,303.0C233.1,303.3 234.4,303.6 235.4,303.4C236.4,303.2 237.1,302.2 238.0,301.6C238.9,301.0 239.7,299.7 240.6,299.6C241.4,299.5 242.4,300.2 243.2,300.8C244.2,301.5 244.8,302.8 245.8,303.4C246.8,304.0 248.1,304.0 249.3,304.3C250.2,304.5 251.2,305.1 251.9,304.8C252.9,304.3 253.6,302.9 254.5,302.0C255.4,301.0 256.2,299.9 257.1,299.0C258.2,298.0 259.3,296.9 260.5,296.1C261.6,295.4 262.8,294.8 264.0,294.4C265.1,294.0 266.3,294.0 267.5,293.8C269.0,293.5 270.5,293.3 272.0,293.0" fill="none" stroke="#c01e32" stroke-width="1.5" stroke-linejoin="round"/>
</g>
<rect x="37.1" y="8.5" width="234.50000000000003" height="316.3" fill="none" stroke="#2a2a2a" stroke-width="1.3"/>
<line x1="37.1" y1="71.9" x2="271.6" y2="71.9" stroke="#2a2a2a" stroke-width="1.3"/>
<line x1="37.1" y1="134.9" x2="271.6" y2="134.9" stroke="#2a2a2a" stroke-width="1.3"/>
<line x1="37.1" y1="197.9" x2="271.6" y2="197.9" stroke="#2a2a2a" stroke-width="1.3"/>
<line x1="37.1" y1="260.9" x2="271.6" y2="260.9" stroke="#2a2a2a" stroke-width="1.3"/>
<line x1="51.2" y1="8.5" x2="51.2" y2="12.3" stroke="#2a2a2a" stroke-width="1.3"/>
<line x1="51.2" y1="71.9" x2="51.2" y2="67.9" stroke="#2a2a2a" stroke-width="1.3"/>
<line x1="51.2" y1="134.9" x2="51.2" y2="130.9" stroke="#2a2a2a" stroke-width="1.3"/>
<line x1="51.2" y1="197.9" x2="51.2" y2="193.9" stroke="#2a2a2a" stroke-width="1.3"/>
<line x1="51.2" y1="260.9" x2="51.2" y2="256.9" stroke="#2a2a2a" stroke-width="1.3"/>
<line x1="51.2" y1="324.8" x2="51.2" y2="320.8" stroke="#2a2a2a" stroke-width="1.3"/>
<line x1="85.6" y1="8.5" x2="85.6" y2="12.3" stroke="#2a2a2a" stroke-width="1.3"/>
<line x1="85.6" y1="71.9" x2="85.6" y2="67.9" stroke="#2a2a2a" stroke-width="1.3"/>
<line x1="85.6" y1="134.9" x2="85.6" y2="130.9" stroke="#2a2a2a" stroke-width="1.3"/>
<line x1="85.6" y1="197.9" x2="85.6" y2="193.9" stroke="#2a2a2a" stroke-width="1.3"/>
<line x1="85.6" y1="260.9" x2="85.6" y2="256.9" stroke="#2a2a2a" stroke-width="1.3"/>
<line x1="85.6" y1="324.8" x2="85.6" y2="320.8" stroke="#2a2a2a" stroke-width="1.3"/>
<line x1="120.0" y1="8.5" x2="120.0" y2="12.3" stroke="#2a2a2a" stroke-width="1.3"/>
<line x1="120.0" y1="71.9" x2="120.0" y2="67.9" stroke="#2a2a2a" stroke-width="1.3"/>
<line x1="120.0" y1="134.9" x2="120.0" y2="130.9" stroke="#2a2a2a" stroke-width="1.3"/>
<line x1="120.0" y1="197.9" x2="120.0" y2="193.9" stroke="#2a2a2a" stroke-width="1.3"/>
<line x1="120.0" y1="260.9" x2="120.0" y2="256.9" stroke="#2a2a2a" stroke-width="1.3"/>
<line x1="120.0" y1="324.8" x2="120.0" y2="320.8" stroke="#2a2a2a" stroke-width="1.3"/>
<line x1="154.4" y1="8.5" x2="154.4" y2="12.3" stroke="#2a2a2a" stroke-width="1.3"/>
<line x1="154.4" y1="71.9" x2="154.4" y2="67.9" stroke="#2a2a2a" stroke-width="1.3"/>
<line x1="154.4" y1="134.9" x2="154.4" y2="130.9" stroke="#2a2a2a" stroke-width="1.3"/>
<line x1="154.4" y1="197.9" x2="154.4" y2="193.9" stroke="#2a2a2a" stroke-width="1.3"/>
<line x1="154.4" y1="260.9" x2="154.4" y2="256.9" stroke="#2a2a2a" stroke-width="1.3"/>
<line x1="154.4" y1="324.8" x2="154.4" y2="320.8" stroke="#2a2a2a" stroke-width="1.3"/>
<line x1="188.8" y1="8.5" x2="188.8" y2="12.3" stroke="#2a2a2a" stroke-width="1.3"/>
<line x1="188.8" y1="71.9" x2="188.8" y2="67.9" stroke="#2a2a2a" stroke-width="1.3"/>
<line x1="188.8" y1="134.9" x2="188.8" y2="130.9" stroke="#2a2a2a" stroke-width="1.3"/>
<line x1="188.8" y1="197.9" x2="188.8" y2="193.9" stroke="#2a2a2a" stroke-width="1.3"/>
<line x1="188.8" y1="260.9" x2="188.8" y2="256.9" stroke="#2a2a2a" stroke-width="1.3"/>
<line x1="188.8" y1="324.8" x2="188.8" y2="320.8" stroke="#2a2a2a" stroke-width="1.3"/>
<line x1="223.2" y1="8.5" x2="223.2" y2="12.3" stroke="#2a2a2a" stroke-width="1.3"/>
<line x1="223.2" y1="71.9" x2="223.2" y2="67.9" stroke="#2a2a2a" stroke-width="1.3"/>
<line x1="223.2" y1="134.9" x2="223.2" y2="130.9" stroke="#2a2a2a" stroke-width="1.3"/>
<line x1="223.2" y1="197.9" x2="223.2" y2="193.9" stroke="#2a2a2a" stroke-width="1.3"/>
<line x1="223.2" y1="260.9" x2="223.2" y2="256.9" stroke="#2a2a2a" stroke-width="1.3"/>
<line x1="223.2" y1="324.8" x2="223.2" y2="320.8" stroke="#2a2a2a" stroke-width="1.3"/>
<line x1="257.6" y1="8.5" x2="257.6" y2="12.3" stroke="#2a2a2a" stroke-width="1.3"/>
<line x1="257.6" y1="71.9" x2="257.6" y2="67.9" stroke="#2a2a2a" stroke-width="1.3"/>
<line x1="257.6" y1="134.9" x2="257.6" y2="130.9" stroke="#2a2a2a" stroke-width="1.3"/>
<line x1="257.6" y1="197.9" x2="257.6" y2="193.9" stroke="#2a2a2a" stroke-width="1.3"/>
<line x1="257.6" y1="260.9" x2="257.6" y2="256.9" stroke="#2a2a2a" stroke-width="1.3"/>
<line x1="257.6" y1="324.8" x2="257.6" y2="320.8" stroke="#2a2a2a" stroke-width="1.3"/>
<line x1="37.1" y1="59.6" x2="41.1" y2="59.6" stroke="#2a2a2a" stroke-width="1.3"/>
<line x1="271.6" y1="59.6" x2="267.6" y2="59.6" stroke="#2a2a2a" stroke-width="1.3"/>
<line x1="37.1" y1="40.3" x2="41.1" y2="40.3" stroke="#2a2a2a" stroke-width="1.3"/>
<line x1="271.6" y1="40.3" x2="267.6" y2="40.3" stroke="#2a2a2a" stroke-width="1.3"/>
<line x1="37.1" y1="21.0" x2="41.1" y2="21.0" stroke="#2a2a2a" stroke-width="1.3"/>
<line x1="271.6" y1="21.0" x2="267.6" y2="21.0" stroke="#2a2a2a" stroke-width="1.3"/>
<line x1="37.1" y1="122.6" x2="41.1" y2="122.6" stroke="#2a2a2a" stroke-width="1.3"/>
<line x1="271.6" y1="122.6" x2="267.6" y2="122.6" stroke="#2a2a2a" stroke-width="1.3"/>
<line x1="37.1" y1="103.3" x2="41.1" y2="103.3" stroke="#2a2a2a" stroke-width="1.3"/>
<line x1="271.6" y1="103.3" x2="267.6" y2="103.3" stroke="#2a2a2a" stroke-width="1.3"/>
<line x1="37.1" y1="84.0" x2="41.1" y2="84.0" stroke="#2a2a2a" stroke-width="1.3"/>
<line x1="271.6" y1="84.0" x2="267.6" y2="84.0" stroke="#2a2a2a" stroke-width="1.3"/>
<line x1="37.1" y1="185.8" x2="41.1" y2="185.8" stroke="#2a2a2a" stroke-width="1.3"/>
<line x1="271.6" y1="185.8" x2="267.6" y2="185.8" stroke="#2a2a2a" stroke-width="1.3"/>
<line x1="37.1" y1="166.5" x2="41.1" y2="166.5" stroke="#2a2a2a" stroke-width="1.3"/>
<line x1="271.6" y1="166.5" x2="267.6" y2="166.5" stroke="#2a2a2a" stroke-width="1.3"/>
<line x1="37.1" y1="147.2" x2="41.1" y2="147.2" stroke="#2a2a2a" stroke-width="1.3"/>
<line x1="271.6" y1="147.2" x2="267.6" y2="147.2" stroke="#2a2a2a" stroke-width="1.3"/>
<line x1="37.1" y1="249.3" x2="41.1" y2="249.3" stroke="#2a2a2a" stroke-width="1.3"/>
<line x1="271.6" y1="249.3" x2="267.6" y2="249.3" stroke="#2a2a2a" stroke-width="1.3"/>
<line x1="37.1" y1="230.0" x2="41.1" y2="230.0" stroke="#2a2a2a" stroke-width="1.3"/>
<line x1="271.6" y1="230.0" x2="267.6" y2="230.0" stroke="#2a2a2a" stroke-width="1.3"/>
<line x1="37.1" y1="210.7" x2="41.1" y2="210.7" stroke="#2a2a2a" stroke-width="1.3"/>
<line x1="271.6" y1="210.7" x2="267.6" y2="210.7" stroke="#2a2a2a" stroke-width="1.3"/>
<line x1="37.1" y1="312.3" x2="41.1" y2="312.3" stroke="#2a2a2a" stroke-width="1.3"/>
<line x1="271.6" y1="312.3" x2="267.6" y2="312.3" stroke="#2a2a2a" stroke-width="1.3"/>
<line x1="37.1" y1="293.0" x2="41.1" y2="293.0" stroke="#2a2a2a" stroke-width="1.3"/>
<line x1="271.6" y1="293.0" x2="267.6" y2="293.0" stroke="#2a2a2a" stroke-width="1.3"/>
<line x1="37.1" y1="273.7" x2="41.1" y2="273.7" stroke="#2a2a2a" stroke-width="1.3"/>
<line x1="271.6" y1="273.7" x2="267.6" y2="273.7" stroke="#2a2a2a" stroke-width="1.3"/>
<text x="34.3" y="24.9" font-size="11.5" text-anchor="end" letter-spacing="0.35">15</text>
<text x="34.3" y="44.2" font-size="11.5" text-anchor="end" letter-spacing="0.35">0</text>
<text x="34.3" y="63.5" font-size="11.5" text-anchor="end" letter-spacing="0.35">-15</text>
<text x="34.3" y="87.9" font-size="11.5" text-anchor="end" letter-spacing="0.35">15</text>
<text x="34.3" y="107.2" font-size="11.5" text-anchor="end" letter-spacing="0.35">0</text>
<text x="34.3" y="126.5" font-size="11.5" text-anchor="end" letter-spacing="0.35">-15</text>
<text x="34.3" y="151.1" font-size="11.5" text-anchor="end" letter-spacing="0.35">15</text>
<text x="34.3" y="170.4" font-size="11.5" text-anchor="end" letter-spacing="0.35">0</text>
<text x="34.3" y="189.7" font-size="11.5" text-anchor="end" letter-spacing="0.35">-15</text>
<text x="34.3" y="214.6" font-size="11.5" text-anchor="end" letter-spacing="0.35">15</text>
<text x="34.3" y="233.9" font-size="11.5" text-anchor="end" letter-spacing="0.35">0</text>
<text x="34.3" y="253.2" font-size="11.5" text-anchor="end" letter-spacing="0.35">-15</text>
<text x="34.3" y="277.6" font-size="11.5" text-anchor="end" letter-spacing="0.35">15</text>
<text x="34.3" y="296.9" font-size="11.5" text-anchor="end" letter-spacing="0.35">0</text>
<text x="34.3" y="316.2" font-size="11.5" text-anchor="end" letter-spacing="0.35">-15</text>
<text x="51.4" y="336.9" font-size="11.5" text-anchor="middle" letter-spacing="0.35">-1.5</text>
<text x="85.8" y="336.9" font-size="11.5" text-anchor="middle" letter-spacing="0.35">-1.0</text>
<text x="120.2" y="336.9" font-size="11.5" text-anchor="middle" letter-spacing="0.35">-0.5</text>
<text x="154.6" y="336.9" font-size="11.5" text-anchor="middle" letter-spacing="0.35">0.0</text>
<text x="189.0" y="336.9" font-size="11.5" text-anchor="middle" letter-spacing="0.35">0.5</text>
<text x="223.4" y="336.9" font-size="11.5" text-anchor="middle" letter-spacing="0.35">1.0</text>
<text x="257.8" y="336.9" font-size="11.5" text-anchor="middle" letter-spacing="0.35">1.5</text>
<text x="85.2" y="23.3" font-size="11.5" letter-spacing="0.28">a = 5.988 Å</text>
<text x="157.9" y="64.6" font-size="11.5" letter-spacing="0.5">x=0.00</text>
<text x="85.2" y="86.7" font-size="11.5" letter-spacing="0.28">a = 5.850 Å</text>
<text x="157.9" y="127.6" font-size="11.5" letter-spacing="0.5">x=0.25</text>
<text x="85.2" y="149.7" font-size="11.5" letter-spacing="0.28">a = 5.677 Å</text>
<text x="157.9" y="190.6" font-size="11.5" letter-spacing="0.5">x=0.50</text>
<text x="85.2" y="212.7" font-size="11.5" letter-spacing="0.28">a = 5.459 Å</text>
<text x="157.9" y="253.6" font-size="11.5" letter-spacing="0.5">x=0.75</text>
<text x="85.2" y="275.7" font-size="11.5" letter-spacing="0.28">a = 5.297 Å</text>
<text x="157.9" y="317.5" font-size="11.5" letter-spacing="0.5">x=1.00</text>
<text x="246" y="23" font-size="11" font-weight="bold">(a)</text>
<text transform="translate(9.3,169.8) rotate(-90)" font-size="11.2" text-anchor="middle" letter-spacing="0.3">DOS (states / eV)</text>
<text x="125.5" y="350.8" font-size="11.5" letter-spacing="0.35">E - E<tspan font-size="6.3" dy="3.6">F</tspan><tspan dy="-3.6"> (eV)</tspan></text>
<rect x="324.5" y="0.6" width="192.70000000000005" height="143.6" fill="none" stroke="#333" stroke-width="1.2"/>
<line x1="340.4" y1="144.2" x2="340.4" y2="140.7" stroke="#333" stroke-width="1.3"/>
<line x1="340.4" y1="0.6" x2="340.4" y2="4.1" stroke="#333" stroke-width="1.3"/>
<text x="340.6" y="154.1" font-size="10" text-anchor="middle" letter-spacing="0.3">0.0</text>
<line x1="372.6" y1="144.2" x2="372.6" y2="140.7" stroke="#333" stroke-width="1.3"/>
<line x1="372.6" y1="0.6" x2="372.6" y2="4.1" stroke="#333" stroke-width="1.3"/>
<text x="372.8" y="154.1" font-size="10" text-anchor="middle" letter-spacing="0.3">0.2</text>
<line x1="404.8" y1="144.2" x2="404.8" y2="140.7" stroke="#333" stroke-width="1.3"/>
<line x1="404.8" y1="0.6" x2="404.8" y2="4.1" stroke="#333" stroke-width="1.3"/>
<text x="405.0" y="154.1" font-size="10" text-anchor="middle" letter-spacing="0.3">0.4</text>
<line x1="437.0" y1="144.2" x2="437.0" y2="140.7" stroke="#333" stroke-width="1.3"/>
<line x1="437.0" y1="0.6" x2="437.0" y2="4.1" stroke="#333" stroke-width="1.3"/>
<text x="437.2" y="154.1" font-size="10" text-anchor="middle" letter-spacing="0.3">0.6</text>
<line x1="469.2" y1="144.2" x2="469.2" y2="140.7" stroke="#333" stroke-width="1.3"/>
<line x1="469.2" y1="0.6" x2="469.2" y2="4.1" stroke="#333" stroke-width="1.3"/>
<text x="469.4" y="154.1" font-size="10" text-anchor="middle" letter-spacing="0.3">0.8</text>
<line x1="501.4" y1="144.2" x2="501.4" y2="140.7" stroke="#333" stroke-width="1.3"/>
<line x1="501.4" y1="0.6" x2="501.4" y2="4.1" stroke="#333" stroke-width="1.3"/>
<text x="501.6" y="154.1" font-size="10" text-anchor="middle" letter-spacing="0.3">1.0</text>
<line x1="324.5" y1="140.6" x2="328.0" y2="140.6" stroke="#333" stroke-width="1.3"/>
<line x1="517.2" y1="140.6" x2="513.7" y2="140.6" stroke="#333" stroke-width="1.3"/>
<text x="322.3" y="144.3" font-size="10" text-anchor="end" letter-spacing="0.3">5.2</text>
<line x1="324.5" y1="107.8" x2="328.0" y2="107.8" stroke="#333" stroke-width="1.3"/>
<line x1="517.2" y1="107.8" x2="513.7" y2="107.8" stroke="#333" stroke-width="1.3"/>
<text x="322.3" y="111.5" font-size="10" text-anchor="end" letter-spacing="0.3">5.4</text>
<line x1="324.5" y1="74.9" x2="328.0" y2="74.9" stroke="#333" stroke-width="1.3"/>
<line x1="517.2" y1="74.9" x2="513.7" y2="74.9" stroke="#333" stroke-width="1.3"/>
<text x="322.3" y="78.6" font-size="10" text-anchor="end" letter-spacing="0.3">5.6</text>
<line x1="324.5" y1="42.1" x2="328.0" y2="42.1" stroke="#333" stroke-width="1.3"/>
<line x1="517.2" y1="42.1" x2="513.7" y2="42.1" stroke="#333" stroke-width="1.3"/>
<text x="322.3" y="45.8" font-size="10" text-anchor="end" letter-spacing="0.3">5.8</text>
<line x1="324.5" y1="9.2" x2="328.0" y2="9.2" stroke="#333" stroke-width="1.3"/>
<line x1="517.2" y1="9.2" x2="513.7" y2="9.2" stroke="#333" stroke-width="1.3"/>
<text x="322.3" y="12.9" font-size="10" text-anchor="end" letter-spacing="0.3">6.0</text>
<polyline points="340.4,11.2 380.6,33.8 420.9,62.3 461.1,98.1 501.4,124.7" fill="none" stroke="#909090" stroke-width="1.1"/>
<circle cx="340.4" cy="11.2" r="2.05" fill="#111"/>
<circle cx="380.6" cy="33.8" r="2.05" fill="#111"/>
<circle cx="420.9" cy="62.3" r="2.05" fill="#111"/>
<circle cx="461.1" cy="98.1" r="2.05" fill="#111"/>
<circle cx="501.4" cy="124.7" r="2.05" fill="#111"/>
<text x="496.5" y="15" font-size="10" font-weight="bold">(b)</text>
<text transform="translate(302.4,79.4) rotate(-90)" font-size="9.6" text-anchor="middle">Lattice constant, a (Å)</text>
<text x="353.3" y="166.2" font-size="10" letter-spacing="0.15">P content (x) in CrMnSb<tspan font-size="6" dy="3" dx="0.8">1-x</tspan><tspan dy="-3" dx="0.8">P</tspan><tspan font-size="6" dy="4" dx="0.8">(x)</tspan></text>
<line x1="449.7" y1="185.4" x2="449.7" y2="345.0" stroke="#222" stroke-width="1"/>
<g clip-path="url(#pc)" fill="none" stroke-linejoin="round">
<path d="M317.0,276.5C318.0,276.2 319.1,275.4 320.1,275.5C320.8,275.6 321.6,277.4 322.1,277.1C322.9,276.7 323.2,274.1 324.1,273.5C324.6,273.2 325.7,274.8 326.2,274.5C327.0,274.1 327.8,272.5 328.2,271.4C329.2,268.8 329.8,266.0 330.6,263.3C331.5,260.6 332.3,256.6 333.3,255.2C333.6,254.7 334.4,256.7 334.7,257.6C335.4,260.1 335.3,263.6 336.3,265.3C336.6,265.8 338.1,263.8 338.4,264.3C339.3,265.7 339.4,268.7 340.0,270.9C340.5,272.5 341.1,275.5 341.8,275.7C342.3,275.9 343.2,273.4 343.7,272.1C344.3,270.3 344.6,266.6 345.1,266.6C345.6,266.6 346.2,270.3 346.7,272.1C347.3,274.5 347.5,277.6 348.5,279.4C348.8,279.9 350.1,279.3 350.4,278.8C351.3,277.3 351.4,275.0 352.2,273.3C352.5,272.7 353.3,271.9 353.7,272.1C354.3,272.5 354.8,274.1 355.2,275.1C355.9,276.7 356.2,278.9 357.1,280.0C357.4,280.4 358.3,279.7 358.9,279.4C359.5,279.1 360.2,278.0 360.7,278.2C361.4,278.4 361.9,279.8 362.6,280.6C363.2,281.2 363.7,281.9 364.4,282.4C364.9,282.8 365.6,283.2 366.2,283.3C367.4,283.4 368.7,283.1 370.0,283.0C372.2,282.8 374.5,282.8 376.6,282.4C378.3,282.0 380.0,281.4 381.5,280.6C382.5,280.0 383.4,279.2 383.9,278.2C384.7,276.5 384.9,274.4 385.3,272.4C385.8,269.6 386.2,266.8 386.6,264.0C387.1,261.0 387.3,257.9 388.0,255.0C388.5,252.9 389.4,250.9 390.3,249.0C390.9,247.8 392.0,246.8 392.6,245.5C393.4,243.8 394.0,241.9 394.3,240.0C394.9,236.4 395.1,232.7 395.5,229.0C396.0,224.5 396.4,220.0 397.0,215.5C397.5,211.9 398.2,205.9 399.0,204.8C399.4,204.2 400.5,208.5 400.8,210.4C401.6,216.4 401.7,222.5 402.1,228.5C402.6,235.4 402.9,242.2 403.4,249.1C403.8,254.7 404.3,260.4 404.7,266.0C405.0,269.5 404.8,274.3 405.4,276.4C405.6,277.0 406.2,274.4 406.9,274.1C407.5,273.9 408.5,275.2 409.1,274.9C410.0,274.4 410.6,271.9 411.4,271.9C412.1,271.9 413.0,275.1 413.6,274.9C414.4,274.6 414.9,270.7 415.8,270.4C416.4,270.2 417.2,273.1 418.1,273.4C418.7,273.6 419.6,271.8 420.3,271.9C421.1,272.0 421.8,274.2 422.5,274.1C423.3,274.0 424.0,271.2 424.8,271.2C425.5,271.2 426.3,274.1 427.0,274.1C427.7,274.1 428.3,271.5 429.2,271.2C429.8,271.0 430.8,272.8 431.5,272.7C432.3,272.6 433.1,271.3 433.7,270.4C434.3,269.5 434.5,267.3 434.9,267.4C435.4,267.5 435.7,270.5 436.4,271.2C436.8,271.5 437.6,270.3 438.2,270.4C439.0,270.5 439.7,271.4 440.4,271.9C441.1,272.4 441.9,272.9 442.6,273.4C443.4,273.9 444.1,274.4 444.9,274.9C445.6,275.4 446.3,275.9 447.1,276.4C447.6,276.7 448.5,277.6 448.6,277.1C449.3,273.6 449.0,268.7 449.6,264.6C449.7,264.0 450.3,262.9 450.5,263.1C450.9,263.6 451.0,265.7 451.5,266.9C451.9,268.0 452.5,269.0 453.1,270.0C453.5,270.6 454.1,271.7 454.6,271.5C455.4,271.2 456.2,269.5 456.9,268.5C457.7,267.2 458.3,265.3 459.2,264.6C459.6,264.3 460.3,265.0 460.8,265.4C461.4,265.8 461.7,266.8 462.3,266.9C463.0,267.0 463.9,266.0 464.6,266.2C465.5,266.5 466.1,267.8 466.9,268.5C467.6,269.1 468.4,269.7 469.2,270.0C469.7,270.1 470.3,269.8 470.8,269.7C471.3,269.6 472.1,269.7 472.3,269.2C473.1,267.2 473.2,264.6 473.8,262.3C474.2,261.0 474.8,258.7 475.3,258.6C475.7,258.5 476.4,260.5 476.6,261.5C477.2,264.3 477.2,267.2 477.7,270.0C478.0,271.8 478.6,273.6 479.2,275.4C479.6,276.7 480.2,277.9 480.8,279.2C481.3,280.2 481.6,281.5 482.3,282.3C482.8,282.9 483.7,283.5 484.6,283.5C496.0,283.9 507.5,283.5 519.0,283.5" stroke="#111" stroke-width="1.3"/>
<path d="M317.0,292.5C317.9,292.4 318.9,292.4 319.7,292.1C320.4,291.9 321.0,290.9 321.5,291.0C322.1,291.1 322.7,292.1 323.2,292.7C323.8,293.4 324.5,294.1 324.9,295.0C325.7,296.8 326.2,298.8 326.7,300.8C327.3,303.1 327.6,305.9 328.4,307.7C328.5,308.0 329.2,307.4 329.5,307.1C330.2,306.4 330.7,304.9 331.3,304.8C331.8,304.7 332.6,305.8 333.0,306.5C333.7,307.8 334.1,310.1 334.7,310.6C335.0,310.9 335.5,309.4 335.9,308.8C336.5,307.7 337.1,306.6 337.6,305.4C338.2,303.9 338.8,302.4 339.3,300.8C339.8,299.1 340.0,297.3 340.5,295.6C340.8,294.8 341.2,293.7 341.7,293.3C341.9,293.1 342.5,294.0 342.8,293.8C343.5,293.2 343.9,291.9 344.5,291.0C345.0,290.2 345.6,289.3 346.3,288.7C346.7,288.3 347.5,288.4 348.0,288.1C348.6,287.8 349.1,287.3 349.7,286.9C350.3,286.5 350.9,286.1 351.5,285.8C352.3,285.4 353.0,285.0 353.8,284.6C354.6,284.2 355.3,283.8 356.1,283.5C356.8,283.2 357.6,283.0 358.4,282.8C359.2,282.6 359.9,282.6 360.7,282.5C361.5,282.5 362.2,282.5 363.0,282.5C363.8,282.6 364.6,282.6 365.3,282.8C366.1,283.1 367.0,283.4 367.6,284.0C368.3,284.6 368.9,285.5 369.3,286.3C369.9,287.6 370.3,289.0 370.8,290.4C371.2,291.5 371.6,292.7 372.2,293.8C372.7,294.7 373.7,295.3 374.0,296.2C374.8,298.4 375.0,300.9 375.7,303.1C375.9,303.7 376.5,304.2 376.8,304.8C377.3,305.8 377.7,306.8 378.0,307.9C378.7,310.4 379.3,313.0 379.9,315.5C380.6,318.3 381.1,321.2 381.8,324.0C382.4,326.3 382.9,330.1 383.7,330.7C384.2,331.1 385.1,328.2 385.6,326.9C386.3,325.0 386.8,323.1 387.5,321.2C388.0,319.9 388.6,318.0 389.4,317.4C389.8,317.1 390.8,317.8 391.3,318.3C392.1,319.1 392.9,321.8 393.2,321.2C394.0,319.7 394.3,315.1 394.6,312.0C395.1,308.0 395.2,304.0 395.6,300.0C395.8,297.8 396.0,295.6 396.5,293.5C396.8,292.4 397.4,290.5 398.0,290.5C398.6,290.5 399.3,292.7 400.2,293.5C400.8,294.0 401.7,294.2 402.4,294.2C403.2,294.2 404.0,293.3 404.7,293.5C405.5,293.8 406.1,295.4 406.9,295.7C407.5,295.9 408.5,294.8 409.1,295.0C410.0,295.3 410.5,296.6 411.4,297.2C412.0,297.6 412.9,297.6 413.6,298.0C414.4,298.4 415.2,298.8 415.8,299.5C416.7,300.6 417.2,302.1 418.1,303.2C418.7,303.9 419.5,304.3 420.3,304.7C421.0,305.0 421.8,305.5 422.5,305.4C423.3,305.3 424.2,304.5 424.8,303.9C425.4,303.3 425.6,302.0 426.3,301.7C426.9,301.5 427.9,302.6 428.5,302.4C429.3,302.1 430.1,301.1 430.7,300.2C431.6,298.8 432.3,297.2 433.0,295.7C433.8,293.8 434.3,291.7 435.2,289.8C435.8,288.5 436.5,287.2 437.4,286.1C438.0,285.4 438.9,285.0 439.7,284.6C440.4,284.2 441.2,283.6 442.0,283.6C453.4,283.3 465.9,282.4 476.5,283.6C477.8,283.7 477.4,286.3 477.6,287.7C478.1,291.1 478.4,294.6 478.8,298.0C479.2,301.9 479.5,305.7 479.9,309.6C480.3,313.1 480.6,316.6 481.1,320.0C481.3,321.3 481.7,324.0 482.0,323.9C482.3,323.8 482.5,321.0 482.8,319.6C483.2,317.4 483.5,315.1 484.1,313.0C484.4,311.9 485.2,309.6 485.7,309.8C486.3,310.0 486.6,312.8 487.4,314.1C487.7,314.6 488.6,315.5 488.9,315.2C489.7,314.4 490.3,312.4 490.7,310.9C491.4,308.7 491.8,306.5 492.2,304.3C492.8,300.7 493.1,297.1 493.7,293.5C494.1,290.9 494.7,288.4 495.4,285.9C495.6,285.1 495.7,283.8 496.5,283.7C503.6,283.0 511.5,283.6 519.0,283.5" stroke="#111" stroke-width="1.3"/>
<path d="M317.0,283.3C319.3,283.2 321.7,283.3 324.0,283.0C324.7,282.9 325.4,282.5 326.0,282.0C326.8,281.3 327.4,280.3 328.2,279.6C329.1,278.8 330.2,278.2 331.2,277.5C331.9,277.1 332.6,276.5 333.3,276.3C333.8,276.2 334.5,276.2 335.0,276.5C335.9,277.0 336.6,277.8 337.3,278.5C338.4,279.5 339.2,280.9 340.4,281.6C341.6,282.3 343.1,282.4 344.5,282.6C346.3,282.9 348.2,283.0 350.0,283.0C358.3,283.2 366.7,283.6 375.0,283.3C377.6,283.2 380.4,282.7 382.7,281.8C383.6,281.4 383.9,280.2 384.5,279.4C385.0,278.8 385.5,278.1 385.8,277.4C386.6,275.7 387.3,274.0 387.9,272.2C388.8,269.7 389.3,266.9 390.5,264.5C391.0,263.4 392.7,263.0 393.1,261.9C394.4,258.7 395.0,255.1 395.6,251.6C396.5,246.5 396.8,241.3 397.7,236.2C397.9,234.9 398.5,232.7 399.0,232.3C399.3,232.1 399.9,233.7 400.2,234.5C400.7,235.9 401.0,237.5 401.3,239.0C401.7,241.3 402.1,243.7 402.4,246.0C402.8,249.0 403.0,252.0 403.2,255.0C403.5,258.3 403.6,261.7 403.9,265.0C404.1,268.0 404.3,271.0 404.7,274.0C404.9,275.7 404.8,278.2 405.8,279.0C406.6,279.7 408.5,278.6 409.9,278.6C411.4,278.6 412.9,279.2 414.4,279.1C415.9,279.0 417.3,278.0 418.8,277.9C420.3,277.8 421.8,278.6 423.3,278.6C424.8,278.6 426.3,278.2 427.8,277.9C429.3,277.7 430.8,277.6 432.2,277.1C433.0,276.8 433.8,275.5 434.5,275.6C435.3,275.7 435.8,277.5 436.7,277.9C438.0,278.5 439.7,278.3 441.2,278.6C442.7,278.9 444.1,279.3 445.6,279.7C446.6,280.0 447.9,280.9 448.6,280.5C449.4,280.0 449.2,277.3 450.0,276.9C450.7,276.6 452.0,278.4 453.1,278.5C454.3,278.6 455.6,277.9 456.9,277.7C458.4,277.4 460.0,276.8 461.5,276.9C463.1,277.0 464.6,278.2 466.2,278.5C467.7,278.8 469.4,279.0 470.8,278.5C472.2,278.0 473.2,275.9 474.6,275.4C475.3,275.1 476.4,275.7 476.9,276.2C477.9,277.2 478.4,278.8 479.2,280.0C479.9,281.1 480.3,283.0 481.5,283.1C493.5,284.2 506.5,283.4 519.0,283.5" stroke="#d42a2a" stroke-width="1.3"/>
<path d="M317.0,284.3C318.7,284.5 320.3,284.6 322.0,284.8C323.4,285.0 324.8,285.1 326.2,285.5C327.6,285.8 328.8,286.5 330.2,286.9C331.5,287.3 332.9,287.7 334.3,287.7C335.7,287.7 337.1,287.1 338.4,286.7C339.8,286.2 341.0,285.4 342.4,285.0C344.2,284.5 346.1,284.1 348.0,284.0C355.3,283.7 362.7,283.6 370.0,283.7C371.8,283.7 373.7,283.8 375.4,284.3C376.7,284.6 377.9,285.4 379.0,286.1C380.1,286.8 381.0,287.9 382.1,288.5C382.8,288.9 383.7,289.1 384.5,289.1C385.5,289.1 386.6,288.8 387.6,288.5C388.4,288.2 389.1,287.5 390.0,287.3C391.6,286.9 393.3,286.8 395.0,286.8C396.5,286.8 398.0,287.5 399.5,287.5C401.0,287.5 402.4,286.8 403.9,286.8C405.4,286.8 406.9,287.3 408.4,287.5C409.9,287.8 411.4,287.9 412.9,288.3C414.4,288.7 415.8,289.4 417.3,289.8C418.8,290.2 420.3,290.3 421.8,290.5C423.3,290.7 424.8,290.9 426.3,291.0C427.8,291.1 429.4,291.7 430.7,291.3C431.8,291.0 432.7,289.8 433.7,289.0C434.7,288.1 435.6,286.9 436.7,286.1C437.6,285.4 438.7,285.1 439.7,284.6C440.4,284.3 441.2,283.7 442.0,283.7C453.6,283.4 466.3,282.5 477.0,283.7C478.2,283.8 477.5,286.4 477.8,287.7C478.2,289.1 478.8,290.5 479.1,292.0C479.6,294.6 479.9,297.3 480.3,300.0C480.6,302.7 480.9,305.3 481.2,308.0C481.4,309.7 481.5,312.3 481.9,313.0C482.1,313.3 482.6,311.7 482.8,311.0C483.4,309.2 483.7,307.2 484.4,305.4C484.8,304.4 485.3,303.2 486.0,302.5C486.3,302.2 487.0,302.2 487.5,302.2C488.0,302.2 488.6,302.9 489.1,302.7C489.9,302.4 490.9,301.6 491.2,300.8C492.3,298.2 492.5,295.2 493.3,292.4C493.8,290.6 494.3,288.7 495.0,287.0C495.4,286.0 495.5,284.4 496.5,284.3C503.5,283.3 511.5,283.8 519.0,283.5" stroke="#d42a2a" stroke-width="1.3"/>
<path d="M317.0,283.0C321.3,282.8 325.7,282.5 330.0,282.5C333.3,282.5 336.8,283.3 340.0,283.0C341.0,282.9 341.6,281.7 342.4,281.2C343.2,280.7 344.1,280.0 344.9,280.0C345.7,280.0 346.5,280.9 347.3,281.2C348.3,281.5 349.4,281.9 350.4,281.8C351.4,281.7 352.4,280.6 353.4,280.6C354.2,280.6 355.0,281.5 355.9,281.8C357.1,282.2 358.3,282.6 359.5,282.8C361.3,283.1 363.2,283.1 365.0,283.2C368.3,283.3 371.7,283.5 375.0,283.3C377.6,283.2 380.3,283.1 382.7,282.4C384.0,282.0 385.3,281.0 386.3,280.0C387.3,279.0 387.9,277.5 388.8,276.3C389.8,274.9 390.7,273.5 391.8,272.2C393.0,270.8 394.4,269.7 395.6,268.3C396.5,267.3 397.1,266.2 398.0,265.2C398.3,264.9 398.7,264.4 399.0,264.5C399.4,264.7 399.9,265.4 400.2,266.0C400.8,267.4 401.3,268.9 401.7,270.4C402.3,272.4 402.6,274.5 403.2,276.4C403.6,277.5 404.1,278.4 404.7,279.4C404.9,279.7 405.1,280.1 405.4,280.1C408.3,280.2 411.4,279.8 414.4,279.7C417.4,279.6 420.3,279.5 423.3,279.4C426.3,279.3 429.2,279.2 432.2,279.1C434.7,279.0 437.2,278.4 439.7,278.6C441.7,278.7 443.6,279.6 445.6,280.1C446.6,280.3 448.1,281.4 448.6,280.8C449.6,279.6 449.3,275.8 450.1,274.9C450.5,274.5 451.4,276.5 452.3,276.9C453.2,277.4 454.5,278.1 455.4,277.7C456.8,277.0 457.8,274.5 459.2,273.8C460.1,273.4 461.4,274.1 462.3,274.6C463.4,275.2 464.3,276.3 465.4,276.9C466.3,277.4 467.5,277.8 468.5,277.7C469.3,277.6 470.0,276.7 470.8,276.2C471.6,275.7 472.5,275.3 473.1,274.6C473.9,273.7 474.4,271.6 475.1,271.5C475.7,271.4 476.4,273.0 476.9,273.8C477.8,275.3 478.4,277.0 479.2,278.5C479.9,279.8 480.5,281.3 481.5,282.3C482.1,282.9 483.1,283.5 484.0,283.5C495.6,283.9 507.3,283.5 519.0,283.5" stroke="#2233cc" stroke-width="1.3"/>
<path d="M317.0,286.0C318.1,286.3 319.3,286.5 320.3,286.9C320.9,287.2 321.4,287.7 322.0,288.1C322.6,288.5 323.3,288.7 323.8,289.2C324.5,289.9 324.9,290.8 325.5,291.5C326.0,292.1 326.5,292.9 327.2,293.3C327.8,293.6 328.8,293.7 329.5,293.6C330.3,293.5 331.0,292.7 331.8,292.7C332.6,292.7 333.4,293.5 334.2,293.6C334.9,293.7 335.8,293.5 336.5,293.3C337.3,293.0 338.2,292.7 338.8,292.1C339.7,291.3 340.2,290.0 341.1,289.2C341.7,288.7 342.6,288.3 343.4,288.1C344.1,287.9 345.0,288.3 345.7,288.1C346.5,287.9 347.3,287.4 348.0,286.9C348.8,286.4 349.5,285.7 350.3,285.2C351.0,284.7 351.8,284.3 352.6,284.0C353.7,283.6 354.9,283.2 356.1,282.9C357.2,282.7 358.4,282.6 359.5,282.5C361.1,282.4 362.7,282.3 364.2,282.5C365.4,282.6 366.7,282.8 367.6,283.5C368.6,284.3 369.3,285.7 369.9,286.9C370.6,288.4 371.1,290.0 371.7,291.5C372.1,292.5 372.3,293.5 372.8,294.4C373.2,295.1 374.0,295.6 374.5,296.2C375.1,296.9 375.8,297.7 376.3,298.5C376.6,299.1 376.9,299.7 377.1,300.3C377.8,302.2 378.4,304.1 379.0,306.0C379.7,308.2 380.2,310.5 380.9,312.7C381.4,314.3 381.8,316.8 382.7,317.4C383.3,317.8 384.7,316.2 385.6,315.5C386.6,314.7 387.6,313.8 388.4,312.7C389.2,311.6 389.5,309.5 390.3,308.9C390.7,308.6 391.9,310.2 392.2,309.8C393.1,308.6 393.7,306.0 394.1,304.1C394.7,301.4 394.7,298.7 395.2,296.0C395.5,294.1 395.9,292.3 396.5,290.5C396.6,290.2 396.9,289.7 397.2,289.8C397.9,290.0 398.7,291.2 399.5,291.3C400.2,291.4 401.0,290.8 401.7,290.5C402.4,290.3 403.2,289.7 403.9,289.8C404.7,289.9 405.4,291.2 406.2,291.3C406.9,291.4 407.7,290.4 408.4,290.5C409.4,290.6 410.4,291.9 411.4,292.0C412.4,292.1 413.4,291.2 414.4,291.3C415.4,291.4 416.3,292.4 417.3,292.8C418.3,293.2 419.3,293.5 420.3,293.5C421.3,293.5 422.3,293.2 423.3,292.8C424.3,292.4 425.3,291.7 426.3,291.3C427.2,290.9 428.3,290.9 429.2,290.5C430.2,290.1 431.3,289.7 432.2,289.0C433.3,288.2 434.1,286.9 435.2,286.1C436.1,285.4 437.2,285.0 438.2,284.6C439.4,284.2 440.7,283.6 442.0,283.6C453.3,283.3 464.9,283.0 476.0,283.6C477.1,283.7 477.6,285.1 478.5,285.7C479.5,286.4 480.4,287.2 481.5,287.7C482.5,288.1 483.6,288.4 484.6,288.5C485.6,288.6 486.7,288.0 487.7,288.2C488.8,288.4 489.8,289.8 490.8,289.7C491.8,289.6 492.9,288.5 493.8,287.7C494.7,286.9 495.4,285.9 496.2,285.1C496.8,284.5 497.2,283.6 498.0,283.5C504.8,283.0 512.0,283.5 519.0,283.5" stroke="#2233cc" stroke-width="1.3"/>
<path d="M317.0,283.2C318.0,282.9 319.0,282.6 320.0,282.3C321.3,281.8 322.7,281.3 324.0,280.8C325.3,280.4 326.6,279.9 328.0,279.6C329.3,279.3 330.7,279.2 332.0,279.2C333.3,279.2 334.7,279.5 336.0,279.8C337.4,280.2 338.7,280.8 340.0,281.3C341.3,281.8 342.6,282.3 344.0,282.6C346.0,283.0 348.0,283.2 350.0,283.2C406.3,283.5 462.7,283.3 519.0,283.4" stroke="#d04cdc" stroke-width="1.3"/>
<path d="M317.0,284.2C318.0,284.5 319.0,284.7 320.0,285.0C321.3,285.4 322.7,285.9 324.0,286.2C325.3,286.5 326.7,286.8 328.0,287.0C329.3,287.2 330.7,287.3 332.0,287.2C333.3,287.1 334.7,286.8 336.0,286.5C337.4,286.2 338.7,285.6 340.0,285.2C341.3,284.8 342.6,284.4 344.0,284.2C346.0,283.9 348.0,283.7 350.0,283.7C406.3,283.5 462.7,283.6 519.0,283.5" stroke="#d04cdc" stroke-width="1.3"/>
</g>
<rect x="318.2" y="185.4" width="200.3" height="159.6" fill="none" stroke="#333" stroke-width="1.2"/>
<line x1="324.4" y1="345.0" x2="324.4" y2="341.5" stroke="#333" stroke-width="1.3"/>
<line x1="324.4" y1="185.4" x2="324.4" y2="188.9" stroke="#333" stroke-width="1.3"/>
<text x="324.1" y="354.2" font-size="9.2" text-anchor="middle">-4</text>
<line x1="355.8" y1="345.0" x2="355.8" y2="341.5" stroke="#333" stroke-width="1.3"/>
<line x1="355.8" y1="185.4" x2="355.8" y2="188.9" stroke="#333" stroke-width="1.3"/>
<text x="355.5" y="354.2" font-size="9.2" text-anchor="middle">-3</text>
<line x1="387.2" y1="345.0" x2="387.2" y2="341.5" stroke="#333" stroke-width="1.3"/>
<line x1="387.2" y1="185.4" x2="387.2" y2="188.9" stroke="#333" stroke-width="1.3"/>
<text x="386.9" y="354.2" font-size="9.2" text-anchor="middle">-2</text>
<line x1="418.6" y1="345.0" x2="418.6" y2="341.5" stroke="#333" stroke-width="1.3"/>
<line x1="418.6" y1="185.4" x2="418.6" y2="188.9" stroke="#333" stroke-width="1.3"/>
<text x="418.3" y="354.2" font-size="9.2" text-anchor="middle">-1</text>
<line x1="450.0" y1="345.0" x2="450.0" y2="341.5" stroke="#333" stroke-width="1.3"/>
<line x1="450.0" y1="185.4" x2="450.0" y2="188.9" stroke="#333" stroke-width="1.3"/>
<text x="449.7" y="354.2" font-size="9.2" text-anchor="middle">0</text>
<line x1="481.4" y1="345.0" x2="481.4" y2="341.5" stroke="#333" stroke-width="1.3"/>
<line x1="481.4" y1="185.4" x2="481.4" y2="188.9" stroke="#333" stroke-width="1.3"/>
<text x="481.1" y="354.2" font-size="9.2" text-anchor="middle">1</text>
<line x1="512.8" y1="345.0" x2="512.8" y2="341.5" stroke="#333" stroke-width="1.3"/>
<line x1="512.8" y1="185.4" x2="512.8" y2="188.9" stroke="#333" stroke-width="1.3"/>
<text x="512.5" y="354.2" font-size="9.2" text-anchor="middle">2</text>
<line x1="318.2" y1="327.5" x2="321.7" y2="327.5" stroke="#333" stroke-width="1.3"/>
<line x1="518.5" y1="327.5" x2="515.0" y2="327.5" stroke="#333" stroke-width="1.3"/>
<text x="315.9" y="330.8" font-size="9.2" text-anchor="end">-20</text>
<line x1="318.2" y1="283.7" x2="321.7" y2="283.7" stroke="#333" stroke-width="1.3"/>
<line x1="518.5" y1="283.7" x2="515.0" y2="283.7" stroke="#333" stroke-width="1.3"/>
<text x="315.9" y="287.0" font-size="9.2" text-anchor="end">0</text>
<line x1="318.2" y1="239.9" x2="321.7" y2="239.9" stroke="#333" stroke-width="1.3"/>
<line x1="518.5" y1="239.9" x2="515.0" y2="239.9" stroke="#333" stroke-width="1.3"/>
<text x="315.9" y="243.2" font-size="9.2" text-anchor="end">20</text>
<line x1="318.2" y1="196.1" x2="321.7" y2="196.1" stroke="#333" stroke-width="1.3"/>
<line x1="518.5" y1="196.1" x2="515.0" y2="196.1" stroke="#333" stroke-width="1.3"/>
<text x="315.9" y="199.4" font-size="9.2" text-anchor="end">40</text>
<line x1="470" y1="195.8" x2="492" y2="195.8" stroke="#d42a2a" stroke-width="1.3"/>
<text x="494" y="199.2" font-size="10">Cr</text>
<line x1="470" y1="207.5" x2="492" y2="207.5" stroke="#2233cc" stroke-width="1.3"/>
<text x="494" y="210.9" font-size="10">Mn</text>
<line x1="470" y1="219.1" x2="492" y2="219.1" stroke="#22cc22" stroke-width="1.3"/>
<text x="494" y="222.5" font-size="10">Sb</text>
<line x1="470" y1="230.8" x2="492" y2="230.8" stroke="#d848e0" stroke-width="1.3"/>
<text x="494" y="234.2" font-size="10">P</text>
<line x1="470" y1="242.4" x2="492" y2="242.4" stroke="#111" stroke-width="1.3"/>
<text x="494" y="245.8" font-size="10">total</text>
<text x="323.5" y="198.6" font-size="9.8">CrMnSb</text>
<text x="358.2" y="202.6" font-size="6">0.5</text>
<text x="366.0" y="198.6" font-size="9.8">P</text>
<text x="372.4" y="202.6" font-size="6">0.5</text>
<text x="381.8" y="198.2" font-size="6.5">:</text>
<text x="385.8" y="198.6" font-size="9.8">bulk</text>
<text x="323.2" y="213.5" font-size="9.4">γ-phase</text>
<text x="323.4" y="224.8" font-size="9.3">a=5.677 Å</text>
<text x="496.8" y="336.3" font-size="10.5" font-weight="bold">(c)</text>
<text transform="translate(301.9,259.2) rotate(-90)" font-size="8.8" text-anchor="middle">DOS (states / eV)</text>
<text x="395.8" y="364.8" font-size="9.5">E - E<tspan font-size="5.5" dy="3" dx="0.5">F</tspan><tspan dy="-3" dx="0.5"> (eV)</tspan></text>
</svg></body></html>
